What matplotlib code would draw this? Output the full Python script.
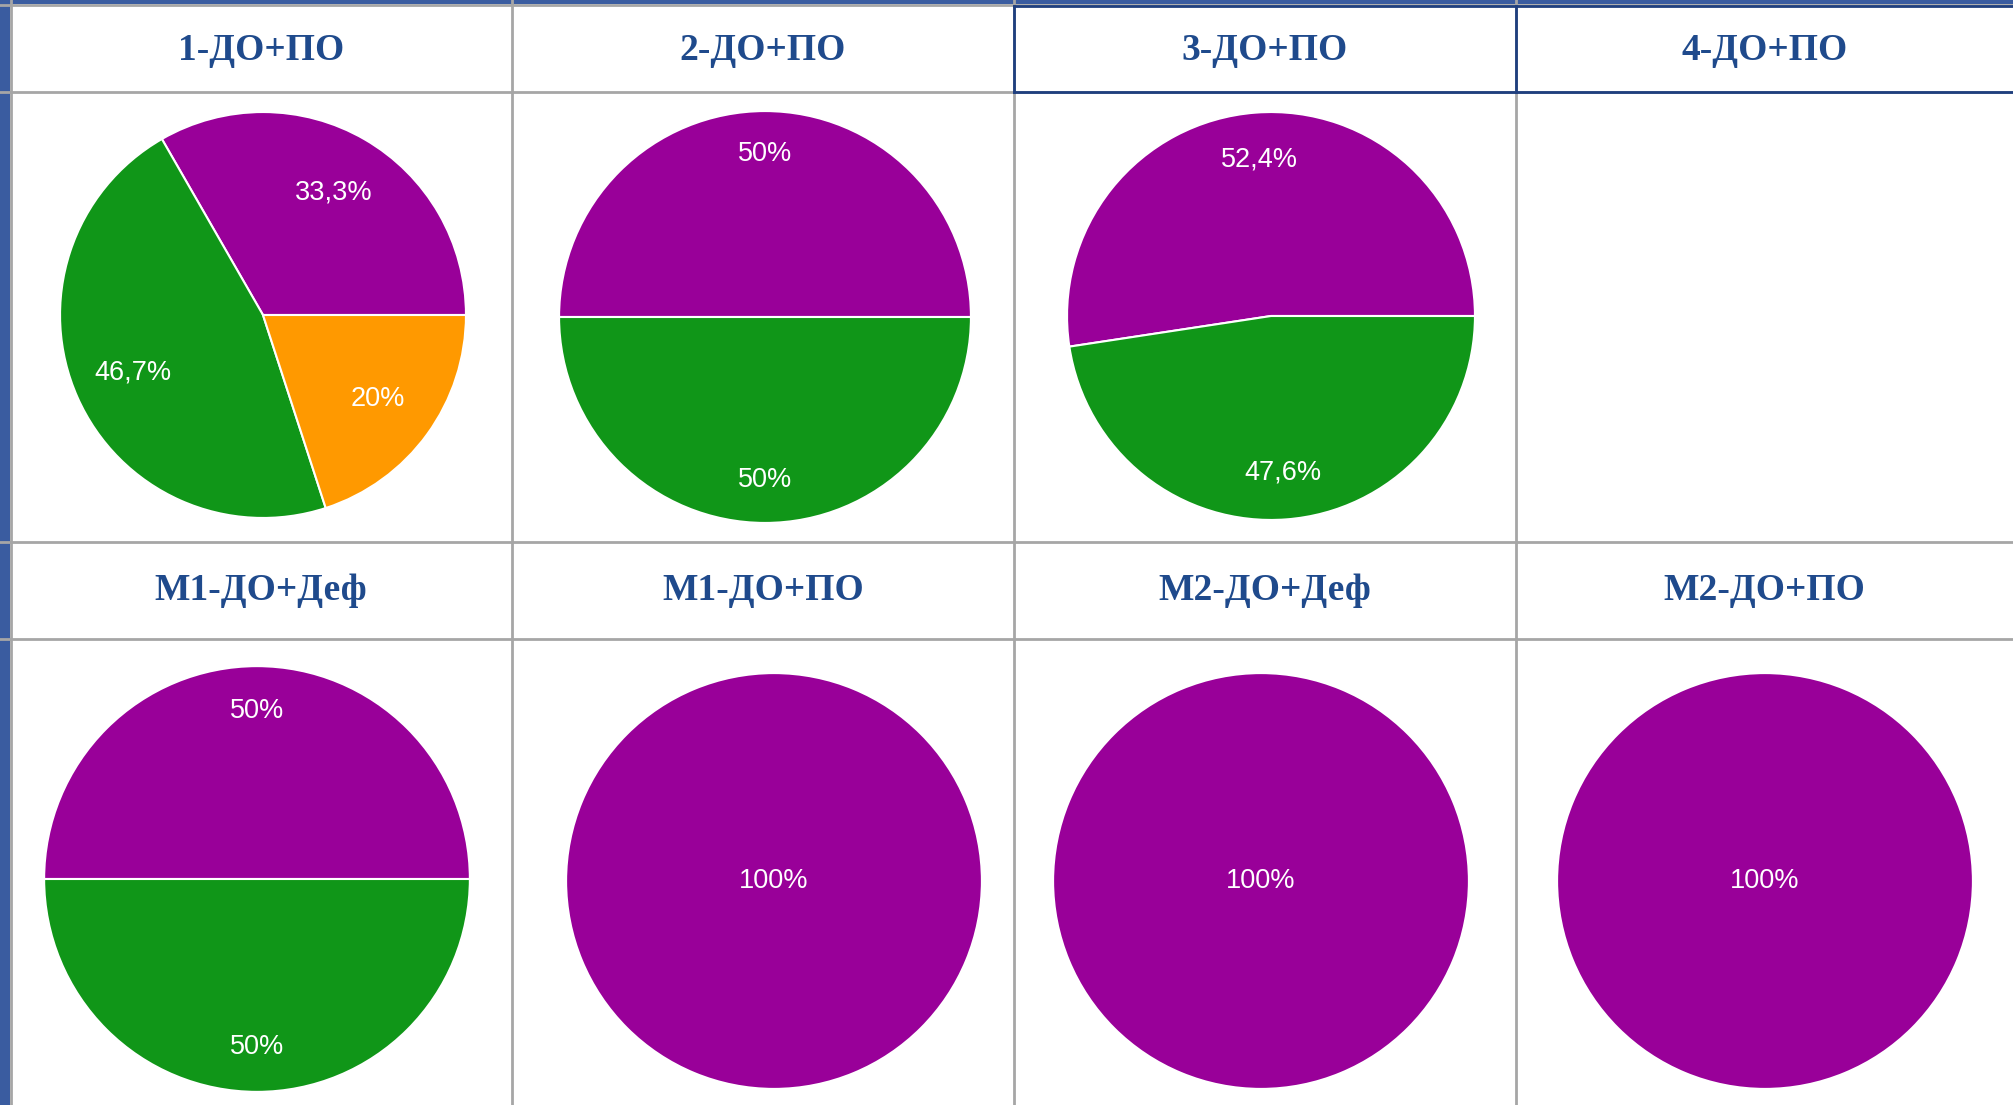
import matplotlib
matplotlib.use("Agg")
import matplotlib.pyplot as plt

# chart titles, row by row
titles = ["1-ДО+ПО", "2-ДО+ПО", "3-ДО+ПО", "4-ДО+ПО",
          "М1-ДО+Деф", "М1-ДО+ПО", "М2-ДО+Деф", "М2-ДО+ПО"]

# shares in percent: purple, green, orange (None = empty cell)
purple = [33.3, 50, 52.4, None, 50, 100, 100, 100]
green = [46.7, 50, 47.6, None, 50, 0, 0, 0]
orange = [20, 0, 0, None, 0, 0, 0, 0]

colors = ["#990099", "#109618", "#ff9900"]

W, H = 2013, 1105
fig = plt.figure(figsize=(W / 100, H / 100), dpi=100)
fig.patch.set_facecolor("white")

# background axes in pixel coordinates for the table grid
bg = fig.add_axes([0, 0, 1, 1])
bg.set_xlim(0, W)
bg.set_ylim(H, 0)
bg.axis("off")

grey = "#a6a6a6"
navy = "#1f3f7f"
col_x = [10, 512, 1014, 1516, W]
row_y = [5, 92, 542, 639, H]

for x in col_x[1:-1]:
    bg.plot([x, x], [0, H], color=grey, lw=2)
bg.plot([11, 11], [0, H], color=grey, lw=2)
for y in row_y[1:-1]:
    bg.plot([0, W], [y, y], color=grey, lw=2)
bg.plot([0, W], [row_y[0], row_y[0]], color=grey, lw=2)
# navy border around the 3rd and 4th header cells
bg.plot([1014, W], [92, 92], color=navy, lw=2)
bg.plot([1014, W], [6, 6], color=navy, lw=2)
bg.plot([1014, 1014], [6, 92], color=navy, lw=2)
bg.plot([1516, 1516], [6, 92], color=navy, lw=2)
# blue frame of the slide
bg.add_patch(plt.Rectangle((0, 0), 10, H, color="#3a5ca0", lw=0))
bg.add_patch(plt.Rectangle((0, 0), W, 4, color="#3a5ca0", lw=0))

# headers
head_y = [50, 590]
for i, t in enumerate(titles):
    r, c = divmod(i, 4)
    cx = (col_x[c] + col_x[c + 1]) / 2
    bg.text(cx, head_y[r], t, ha="center", va="center", fontsize=27,
            fontweight="bold", family="Liberation Serif", color="#1f4a8c")

# pie centres and radii in pixels
centres = [(263, 315), (765, 317), (1271, 316), None,
           (257, 879), (774, 881), (1261, 881), (1765, 881)]
radii = [205, 208, 206, None, 215, 210, 210, 210]
label_dist = [0.7, 0.79, 0.77, None, 0.79, 0, 0, 0]


def fmt(p):
    s = f"{p:.1f}".replace(".", ",")
    if s.endswith(",0"):
        s = s[:-2]
    return s + "%"


for i in range(8):
    if purple[i] is None:
        continue
    cx, cy = centres[i]
    rad = radii[i]
    ax = fig.add_axes([(cx - rad) / W, 1 - (cy + rad) / H, 2 * rad / W, 2 * rad / H])
    vals, cols = [], []
    for v, col in zip([purple[i], green[i], orange[i]], colors):
        if v > 0:
            vals.append(v)
            cols.append(col)
    ax.pie(vals, colors=cols, startangle=0, counterclock=True,
           autopct=fmt, pctdistance=label_dist[i],
           wedgeprops=dict(edgecolor="white", linewidth=1.5),
           textprops=dict(color="white", fontsize=19.5, family="Liberation Sans"))
    ax.set_xlim(-1.01, 1.01)
    ax.set_ylim(-1.01, 1.01)
    ax.set_aspect("equal")
    ax.axis("off")

fig.savefig("out.png", dpi=100)
